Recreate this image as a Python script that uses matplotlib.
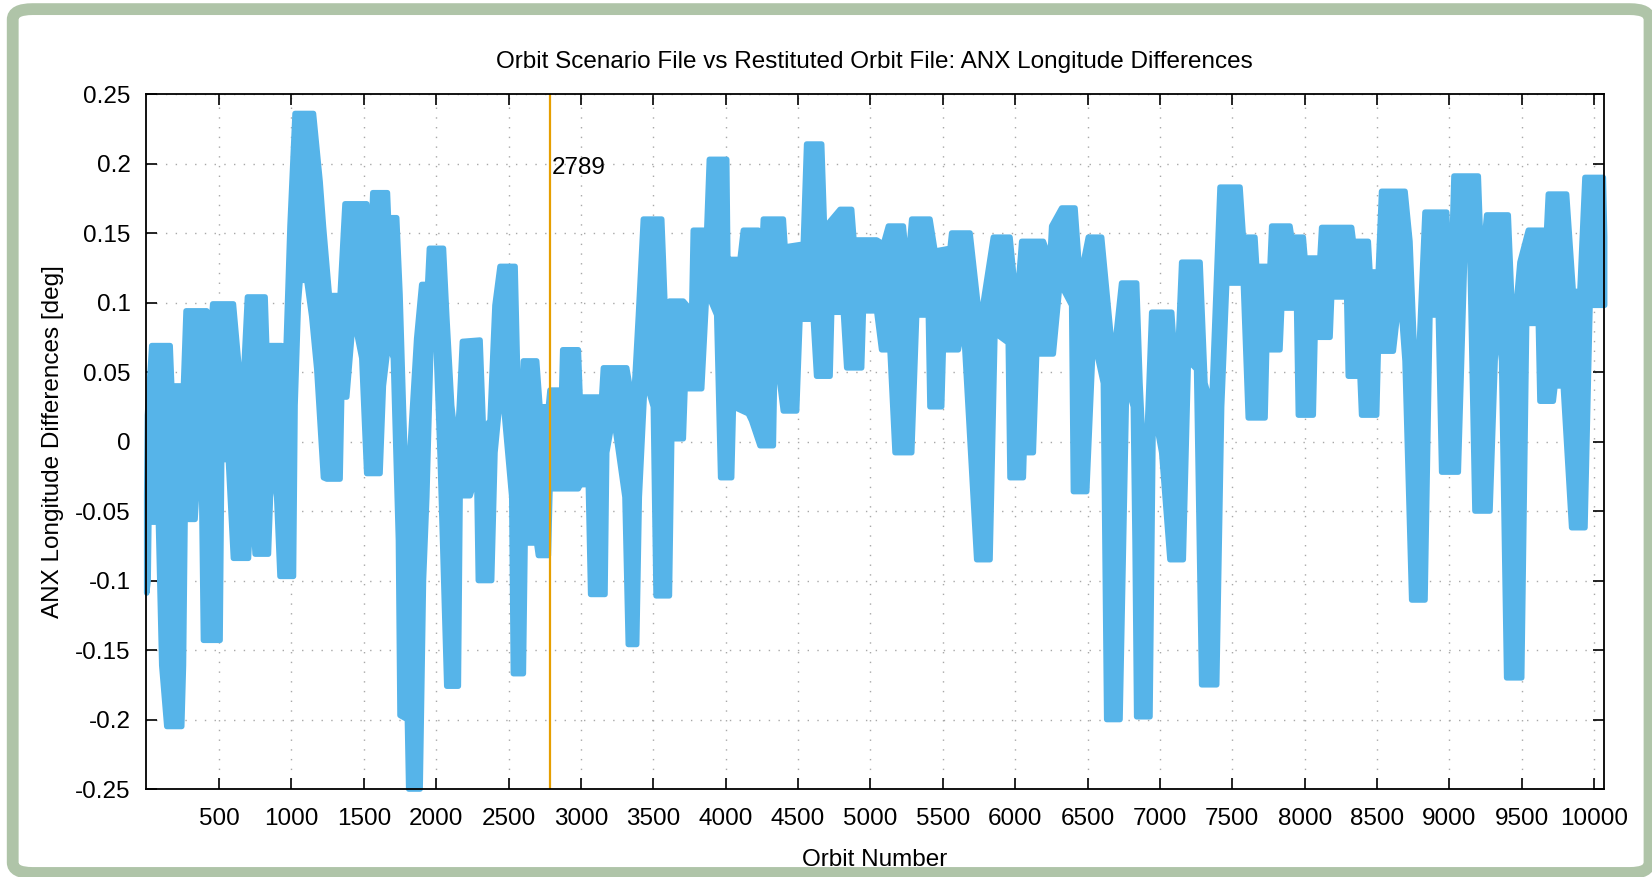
import numpy as np
import matplotlib.pyplot as plt
from matplotlib.patches import FancyBboxPatch

# upper and lower edge of the plotted band (orbit number, deg)
upper_orbit = [0, 5, 35, 162, 173, 254, 272, 415, 433, 456, 599, 645, 668, 696, 818, 829, 933, 956,
               990, 1025, 1152, 1198, 1221, 1262, 1336, 1370, 1520, 1543, 1562, 1663, 1670, 1727,
               1750, 1773, 1796, 1819, 1865, 1900, 1941, 1953, 2050, 2073, 2107, 2142, 2160, 2181,
               2303, 2326, 2372, 2406,
               2441, 2545, 2579, 2602, 2694, 2717, 2775, 2786, 2867, 2874, 2982, 2994, 3143, 3155,
               3316, 3362, 3397, 3431, 3558, 3569, 3592, 3611, 3707, 3765, 3776, 3869, 3887, 4007,
               4018, 4030, 4099, 4122, 4226, 4242, 4260, 4398, 4410, 4536, 4559, 4663, 4686, 4709,
               4790, 4870, 4886, 5043, 5089, 5124, 5227, 5255, 5285, 5411, 5446, 5550, 5561, 5688,
               5757, 5849, 5964, 6010, 6045, 6194, 6240, 6252, 6321, 6413, 6448, 6505, 6597, 6678,
               6735, 6839, 6862, 6897, 6943, 7081, 7115, 7150, 7277, 7311, 7357, 7415, 7553, 7576,
               7656, 7668, 7760, 7772, 7898, 7910, 7990, 8002, 8105, 8117, 8324, 8336, 8439, 8451,
               8508, 8531, 8693, 8727, 8773, 8831, 8981, 9004, 9031, 9199, 9222, 9257, 9406, 9441,
               9487, 9545, 9671, 9683, 9809, 9855, 9901, 9936, 10063, 10072]
upper_diff = [-0.039, 0.019, 0.069, 0.069, 0.040, 0.040, 0.094, 0.094, 0.066, 0.099, 0.099, 0.045,
              0.045, 0.104, 0.104, 0.069, 0.069, 0.045, 0.155, 0.236, 0.236, 0.187, 0.155, 0.105,
              0.105, 0.171, 0.171, 0.123, 0.179, 0.179, 0.161, 0.161, 0.106, 0.026, -0.048, -0.006,
              0.074, 0.113, 0.113, 0.139, 0.139, 0.090, 0.026, -0.006, 0.026, 0.072,
              0.073, 0.009, 0.015, 0.098, 0.126, 0.126,
              -0.024, 0.058, 0.058, 0.025, 0.025, 0.037, 0.037, 0.066, 0.066, 0.032, 0.032, 0.053,
              0.053, 0.025, 0.091, 0.160, 0.160, 0.131, 0.065, 0.101, 0.101, 0.094, 0.152, 0.152,
              0.203, 0.203, 0.098, 0.131, 0.131, 0.152, 0.152, 0.117, 0.160, 0.160, 0.140, 0.142,
              0.214, 0.214, 0.142, 0.157, 0.167, 0.167, 0.145, 0.145, 0.142, 0.155, 0.155, 0.124,
              0.160, 0.160, 0.137, 0.139, 0.150, 0.150, 0.085, 0.147, 0.147, 0.098, 0.144, 0.144,
              0.131, 0.155, 0.168, 0.168, 0.117, 0.147, 0.147, 0.058, 0.114, 0.114, 0.042, -0.034,
              0.093, 0.093, 0.042, 0.129, 0.129, 0.042, 0.025, 0.183, 0.183, 0.147, 0.147, 0.126,
              0.126, 0.155, 0.155, 0.147, 0.147, 0.132, 0.132, 0.154, 0.154, 0.144, 0.144, 0.122,
              0.122, 0.180, 0.180, 0.144, 0.025, 0.165, 0.165, 0.091, 0.191, 0.191, 0.124, 0.163,
              0.163, 0.075, 0.129, 0.152, 0.152, 0.178, 0.178, 0.108, 0.108, 0.190, 0.190, 0.147]

lower_orbit = [0, 10, 15, 81, 104, 139, 242, 254, 265, 334, 357, 380, 392, 507, 518, 564, 599, 703,
               726, 749, 841, 864, 898, 921, 1014, 1025, 1048, 1060, 1106, 1140, 1175, 1221, 1244,
               1336, 1347, 1382, 1428, 1486, 1520, 1612, 1635, 1670, 1704, 1739, 1750, 1801, 1810,
               1889, 1912, 1935, 1969, 1992, 2027, 2073, 2153, 2165, 2234,
               2280, 2291, 2383, 2406, 2452, 2522, 2533,
               2602, 2614, 2694, 2706, 2775, 2786, 2982, 2994, 3051, 3067, 3166, 3178, 3224, 3304,
               3327, 3385, 3403, 3443, 3500, 3519, 3611, 3627, 3707, 3719, 3834, 3869, 3938, 3965,
               4041, 4053, 4156, 4179, 4237, 4329, 4341, 4398, 4490, 4513, 4605, 4628, 4721, 4732,
               4813, 4836, 4939, 4951, 5043, 5077, 5135, 5170, 5285, 5319, 5400, 5411, 5492, 5503,
               5607, 5642, 5734, 5826, 5860, 5952, 5964, 6056, 6061, 6125, 6148, 6263, 6309, 6390,
               6402, 6494, 6540, 6609, 6632, 6724, 6770, 6816, 6828, 6839, 6931, 6954, 7012, 7069,
               7161, 7196, 7253, 7288, 7392, 7426, 7461, 7576, 7610, 7726, 7737, 7829, 7841, 7944,
               7956, 8059, 8071, 8175, 8186, 8290, 8301, 8382, 8393, 8497, 8508, 8612, 8658, 8693,
               8739, 8831, 8865, 8923, 8946, 9061, 9107, 9142, 9176, 9280, 9326, 9360, 9395, 9499,
               9533, 9614, 9625, 9717, 9729, 9786, 9844, 9936, 9971, 10072]
lower_diff = [-0.109, -0.100, -0.058, -0.058, -0.161, -0.205, -0.205, -0.161, -0.056, -0.056,
              -0.016, -0.040, -0.143, -0.143, -0.013, -0.013, -0.084, -0.084, -0.039, -0.081,
              -0.081, -0.013, -0.040, -0.097, -0.097, 0.026, 0.100, 0.116, 0.116, 0.090, 0.052,
              -0.026, -0.027, -0.027, 0.032, 0.032, 0.090, 0.060, -0.023, -0.023, 0.040, 0.071,
              0.060, -0.071, -0.197, -0.200, -0.250, -0.250, -0.100, -0.040, 0.090, 0.090, -0.010,
              -0.176, -0.176, -0.039, -0.039,
              -0.024, -0.100, -0.100, -0.008, 0.042, -0.040, -0.167, -0.167, -0.073, -0.073,
              -0.082, -0.082, -0.034, -0.034, -0.031, -0.031, -0.110, -0.110, -0.008, 0.019, -0.040,
              -0.146, -0.146, -0.040, 0.045, 0.025, -0.111, -0.111, 0.002, 0.002, 0.038, 0.038,
              0.108, 0.091, -0.026, -0.026, 0.025, 0.020, 0.015, -0.003, -0.003, 0.070, 0.022,
              0.022, 0.088, 0.088, 0.047, 0.047, 0.093, 0.093, 0.053, 0.053, 0.094, 0.094, 0.066,
              0.066, -0.008, -0.008, 0.091, 0.091, 0.025, 0.025, 0.066, 0.066, 0.085, -0.085, -0.085,
              0.078, 0.071, -0.026, -0.026, -0.008, -0.008, 0.063, 0.063, 0.114, 0.098, -0.036,
              -0.036, 0.075, 0.042, -0.200, -0.200, 0.042, 0.025, -0.073, -0.198, -0.198, 0.025,
              -0.008, -0.085, -0.085, 0.058, 0.052, -0.175, -0.175, 0.025, 0.114, 0.114, 0.017,
              0.017, 0.066, 0.066, 0.096, 0.096, 0.019, 0.019, 0.075, 0.075, 0.104, 0.104, 0.047,
              0.047, 0.019, 0.019, 0.065, 0.065, 0.108, 0.058, -0.114, -0.114, 0.091, 0.091, -0.022,
              -0.022, 0.140, 0.131, -0.050, -0.050, 0.091, 0.058, -0.170, -0.170, 0.085, 0.085,
              0.029, 0.029, 0.040, 0.040, -0.062, -0.062, 0.098, 0.098]

mark_orbit = 2789
xticks = list(range(500, 10001, 500))
yticks = [-0.25, -0.2, -0.15, -0.1, -0.05, 0, 0.05, 0.1, 0.15, 0.2, 0.25]
ylabels = ['-0.25', '-0.2', '-0.15', '-0.1', '-0.05', '0', '0.05', '0.1', '0.15', '0.2', '0.25']

assert len(upper_orbit) == len(upper_diff) and len(lower_orbit) == len(lower_diff)

blue = '#56B4E9'
fs = 17.5
plt.rcParams['font.family'] = ['Liberation Sans', 'DejaVu Sans']

fig = plt.figure(figsize=(16.52, 8.77), dpi=100)
fig.patches.append(FancyBboxPatch((0.0077, 0.0046), 0.9908, 0.985,
                                  boxstyle='round,pad=0,rounding_size=0.012',
                                  transform=fig.transFigure, fill=False,
                                  ec='#AFC4A8', lw=8.5))

ax = fig.add_axes([0.0881, 0.1003, 0.8828, 0.7925])

# band outline: upper edge left to right, lower edge back
poly_x = np.concatenate([upper_orbit, lower_orbit[::-1]])
poly_y = np.concatenate([upper_diff, lower_diff[::-1]])
ax.fill(poly_x, poly_y, color=blue, lw=4, ec=blue, joinstyle='round', zorder=2, clip_on=False)

ax.axvline(mark_orbit, color='#E69F00', lw=1.6, zorder=3)
ax.text(mark_orbit + 8, 0.197, str(mark_orbit), fontsize=fs, va='center', ha='left', zorder=4)

ax.set_xlim(-8, 10067)
ax.set_ylim(-0.25, 0.25)
ax.set_xticks(xticks)
ax.set_yticks(yticks)
ax.set_yticklabels(ylabels)
ax.tick_params(direction='in', top=True, right=True, length=8, width=1.2, labelsize=fs)
ax.tick_params(axis='x', pad=14)
ax.tick_params(axis='y', pad=10.8)
ax.grid(True, color='#a8a8a8', linestyle=(0, (1, 6)), lw=1)
ax.set_axisbelow(True)
for s in ax.spines.values():
    s.set_linewidth(1.3)
    s.set_zorder(5)

ax.set_title('Orbit Scenario File vs Restituted Orbit File: ANX Longitude Differences',
             fontsize=fs, pad=19)
ax.set_xlabel('Orbit Number', fontsize=fs, labelpad=13)
ax.set_ylabel('ANX Longitude Differences [deg]', fontsize=fs, labelpad=8)

fig.savefig('out.png', dpi=100)
